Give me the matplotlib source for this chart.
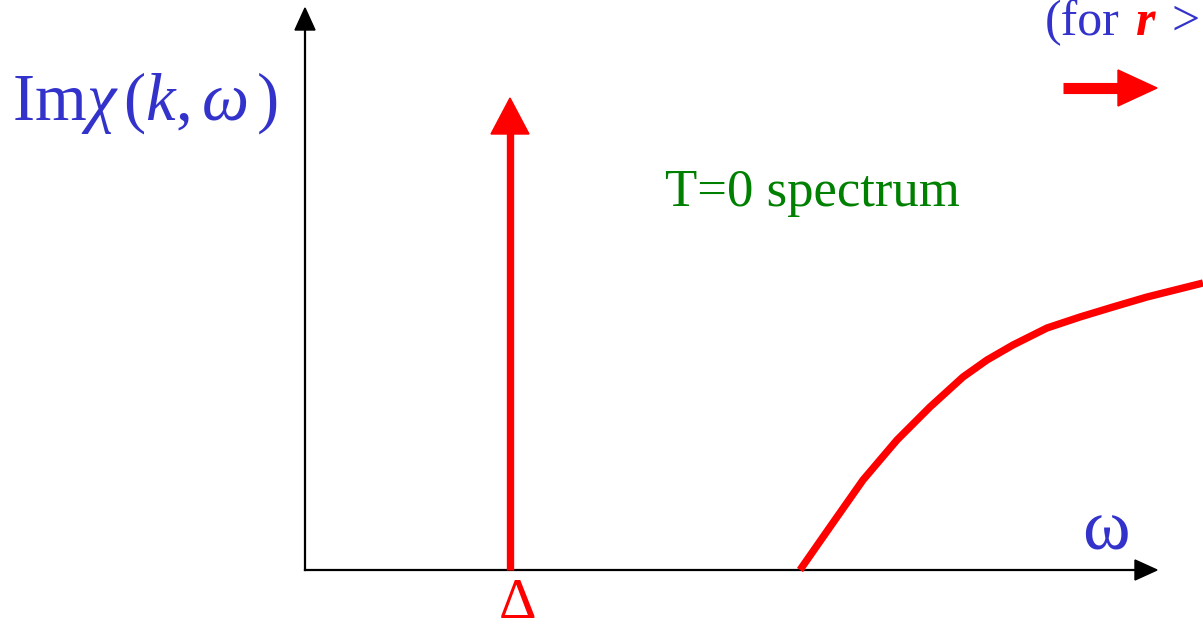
import matplotlib
matplotlib.use('Agg')
import matplotlib.pyplot as plt
from matplotlib.patches import FancyArrow

plt.rcParams['mathtext.fontset'] = 'custom'
plt.rcParams['mathtext.rm'] = 'Liberation Serif'
plt.rcParams['mathtext.it'] = 'Liberation Serif:italic'
plt.rcParams['font.family'] = ['Liberation Serif', 'DejaVu Serif']

BLUE = '#3333cc'
RED = '#ff0000'
GREEN = '#008000'

# continuum branch of the spectrum (omega, Im chi), canvas units
curve_w = [800, 830, 863, 897, 930, 963, 987, 1013, 1047, 1080, 1113, 1147, 1203]
curve_y = [0, 43, 90, 130, 163, 193, 210, 225, 242, 253, 263, 273, 287]

# delta peak at omega = Delta
delta_w = 510
delta_h = 472

origin_x, origin_y = 305, 60
W, H = 1203, 630

fig = plt.figure(figsize=(12.03, 6.3), dpi=100)
ax = fig.add_axes([0, 0, 1, 1])
ax.set_xlim(0, W)
ax.set_ylim(0, H)
ax.axis('off')

# axes with arrow heads
ax.plot([origin_x, 1140], [origin_y, origin_y], color='black', lw=1.6)
ax.plot([origin_x, origin_x], [origin_y, 605], color='black', lw=1.6)
ax.add_patch(FancyArrow(1135, origin_y, 22, 0, width=0, head_width=20, head_length=22,
                        length_includes_head=True, color='black'))
ax.add_patch(FancyArrow(origin_x, 600, 0, 22, width=0, head_width=20, head_length=22,
                        length_includes_head=True, color='black'))

# delta function spike
ax.plot([delta_w, delta_w], [origin_y, origin_y + delta_h - 34], color=RED, lw=5.3,
        solid_capstyle='butt')
ax.add_patch(FancyArrow(delta_w, origin_y + delta_h - 36, 0, 36, width=0, head_width=38,
                        head_length=36, length_includes_head=True, color=RED))

# continuum
ax.plot(curve_w, [origin_y + v for v in curve_y], color=RED, lw=5.3,
        solid_capstyle='butt', solid_joinstyle='round')

# small arrow top right
ax.plot([1063, 1122], [H - 88, H - 88], color=RED, lw=8, solid_capstyle='butt')
ax.add_patch(FancyArrow(1118, H - 88, 39, 0, width=0, head_width=36, head_length=39,
                        length_includes_head=True, color=RED))

ax.text(12, H - 103, r'$\mathrm{Im}\chi\,(k,\omega\,)$', color=BLUE, fontsize=48,
        ha='left', va='center')
ax.text(812, H - 193, 'T=0 spectrum', color=GREEN, fontsize=38, ha='center',
        va='center')
ax.text(1106, H - 550, 'ω', color=BLUE, fontsize=52, ha='center', va='baseline')
ax.text(517, H - 618, r'$\mathrm{\Delta}$', color=RED, fontsize=42, ha='center',
        va='baseline')

# "(for r >" running off the right edge
ax.text(1045, H - 35, '(for', color=BLUE, fontsize=36, ha='left', va='baseline')
ax.text(1136, H - 35, 'r', color=RED, fontsize=36, fontweight='bold',
        fontstyle='italic', ha='left', va='baseline')
ax.text(1172, H - 35, '>', color=BLUE, fontsize=36, ha='left', va='baseline')

fig.savefig('out.png', dpi=100)
